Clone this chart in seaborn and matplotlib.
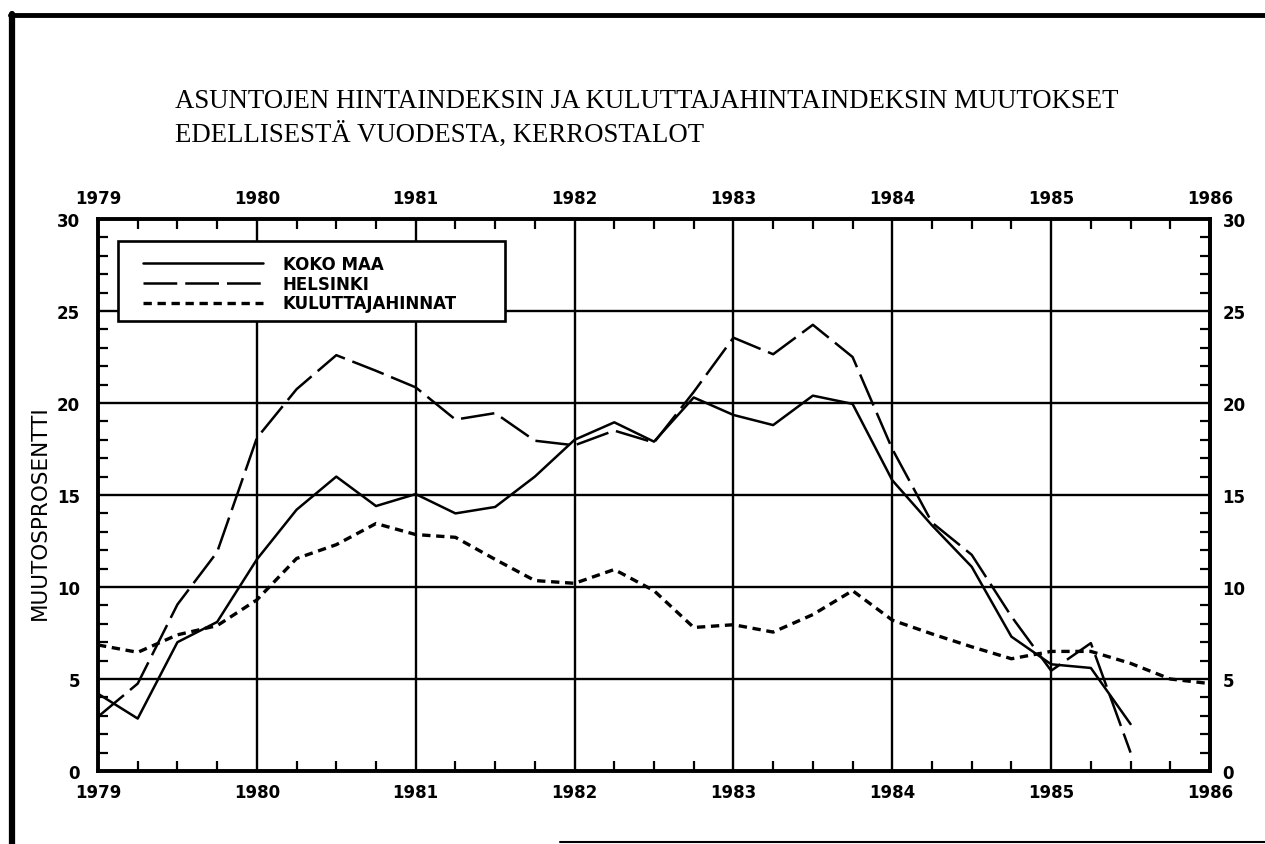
import numpy as np
import pandas as pd
import matplotlib
matplotlib.use("Agg")
import matplotlib.pyplot as plt
from matplotlib.lines import Line2D
from matplotlib.patches import Rectangle
import seaborn as sns

# ---- data (quarterly, % change from previous year) ----
quarters_main = [1979 + 0.25 * i for i in range(27)]   # 1979.0 .. 1985.5
quarters_cpi = [1979 + 0.25 * i for i in range(29)]    # 1979.0 .. 1986.0

koko_maa = [4.2, 2.85, 7.0, 8.1, 11.5, 14.2, 16.0, 14.4, 15.05, 14.0, 14.35, 16.0,
            18.0, 18.95, 17.9, 20.3, 19.35, 18.8, 20.4, 19.95, 15.8, 13.35, 11.1,
            7.3, 5.8, 5.6, 2.55]
helsinki = [2.95, 4.75, 9.05, 11.9, 18.1, 20.75, 22.6, 21.75, 20.85, 19.1, 19.45, 17.95,
            17.7, 18.5, 17.85, 20.6, 23.55, 22.65, 24.25, 22.5, 17.5, 13.5, 11.75,
            8.4, 5.45, 6.95, 1.0]
kuluttajahinnat = [6.85, 6.45, 7.4, 7.9, 9.3, 11.55, 12.3, 13.45, 12.85, 12.7, 11.5, 10.35,
                   10.2, 10.95, 9.8, 7.8, 7.95, 7.55, 8.5, 9.8, 8.2, 7.45, 6.75, 6.1,
                   6.5, 6.5, 5.85, 5.0, 4.75]

year_ticks = list(range(1979, 1987))
y_ticks = [0, 5, 10, 15, 20, 25, 30]
series_labels = ["KOKO MAA", "HELSINKI", "KULUTTAJAHINNAT"]
title_lines = ["ASUNTOJEN HINTAINDEKSIN JA KULUTTAJAHINTAINDEKSIN MUUTOKSET",
               "EDELLISESTÄ VUODESTA, KERROSTALOT"]
y_label = "MUUTOSPROSENTTI"

# ---- styling ----
sns.set_theme(style="white")
plt.rcParams["font.family"] = ["DejaVu Sans"]
plt.rcParams["text.color"] = "black"

W, H = 1265, 845
fig = plt.figure(figsize=(W / 100, H / 100), dpi=100)
fig.patch.set_facecolor("white")

ax_l, ax_r, ax_b, ax_t = 98, 1210, 772, 220
ax = fig.add_axes([ax_l / W, (H - ax_b) / H, (ax_r - ax_l) / W, (ax_b - ax_t) / H])
ax.set_facecolor("white")

df_main = pd.DataFrame({"t": quarters_main, "koko": koko_maa, "hki": helsinki})
df_cpi = pd.DataFrame({"t": quarters_cpi, "cpi": kuluttajahinnat})

solid_lw, long_lw, short_lw = 1.8, 1.8, 2.4
long_ls = (0, (13.5, 3.2))
short_ls = (0, (2.5, 1.7))

sns.lineplot(data=df_main, x="t", y="koko", ax=ax, color="black", linewidth=solid_lw,
             linestyle="-", zorder=3)
sns.lineplot(data=df_main, x="t", y="hki", ax=ax, color="black", linewidth=long_lw,
             linestyle=long_ls, zorder=3)
sns.lineplot(data=df_cpi, x="t", y="cpi", ax=ax, color="black", linewidth=short_lw,
             linestyle=short_ls, zorder=3)

ax.set_xlim(1979, 1986)
ax.set_ylim(0, 30)
ax.set_xlabel("")
ax.set_ylabel("")

ax.set_xticks(year_ticks)
ax.set_xticks([q for q in np.arange(1979, 1986.01, 0.25) if q % 1 != 0], minor=True)
ax.set_yticks(y_ticks)
ax.set_yticks([v for v in range(0, 31) if v % 5 != 0], minor=True)
ax.set_axisbelow(True)
ax.grid(True, which="major", color="black", linewidth=1.7)

for s in ax.spines.values():
    s.set_visible(True)
    s.set_color("black")
    s.set_linewidth(2.8)

tick_font = dict(fontsize=12, fontweight="bold", family="DejaVu Sans", color="black")
ax.tick_params(which="major", direction="in", length=0, bottom=True, top=True,
               left=True, right=True, labelbottom=True, labeltop=True,
               labelleft=True, labelright=False, pad=9, colors="black")
ax.tick_params(which="minor", direction="in", length=7, width=1.6, bottom=True,
               top=True, left=True, right=True, color="black")
ax.tick_params(axis="x", which="major", pad=9)
ax.tick_params(axis="y", which="major", pad=13)
ax.set_xticklabels([str(y) for y in year_ticks], **tick_font)
ax.set_yticklabels([str(v) for v in y_ticks], **tick_font)

sec = ax.secondary_yaxis("right")
sec.set_yticks(y_ticks)
sec.set_yticklabels([str(v) for v in y_ticks], **tick_font)
sec.tick_params(length=0, pad=9, colors="black")
sec.spines["right"].set_linewidth(2.8)

fig.text(40 / W, (H - 513) / H, y_label, rotation=90, ha="center", va="center",
         fontsize=15.5, color="black", family="DejaVu Sans")

# legend box (opaque, hides grid)
def px2ax(x, y):
    return (x - ax_l) / (ax_r - ax_l), (ax_b - y) / (ax_b - ax_t)

x0, y0 = px2ax(118, 322)
x1, y1 = px2ax(505, 242)
ax.add_patch(Rectangle((x0, y0), x1 - x0, y1 - y0, transform=ax.transAxes,
                       facecolor="white", edgecolor="black", linewidth=1.9,
                       zorder=4, clip_on=False))
handles = [Line2D([], [], color="black", lw=solid_lw, ls="-"),
           Line2D([], [], color="black", lw=long_lw, ls=long_ls),
           Line2D([], [], color="black", lw=short_lw, ls=short_ls)]
lx, ly = px2ax(143, 256)
leg = ax.legend(handles, series_labels, loc="upper left", bbox_to_anchor=(lx, ly),
                frameon=False, borderpad=0, borderaxespad=0, handlelength=7.2,
                handletextpad=1.2, labelspacing=0.1, labelcolor="black",
                prop=dict(family="DejaVu Sans", weight="bold", size=12))
leg.set_zorder(5)

# title
fig.text(175 / W, (H - 101) / H, title_lines[0], ha="left", va="center",
         fontsize=19.3, family="Liberation Serif", color="black")
fig.text(175 / W, (H - 135) / H, title_lines[1], ha="left", va="center",
         fontsize=19.3, family="Liberation Serif", color="black")

# page frame
fig.add_artist(Line2D([12 / W, 12 / W], [0, (H - 15) / H], color="black", lw=4.5,
                      transform=fig.transFigure))
fig.add_artist(Line2D([10 / W, 1], [(H - 16) / H, (H - 16) / H], color="black", lw=3.5,
                      transform=fig.transFigure))
fig.add_artist(Line2D([560 / W, 1], [(H - 843) / H, (H - 843) / H], color="black", lw=1.5,
                      transform=fig.transFigure))

fig.savefig("out.png", dpi=100, facecolor="white")
